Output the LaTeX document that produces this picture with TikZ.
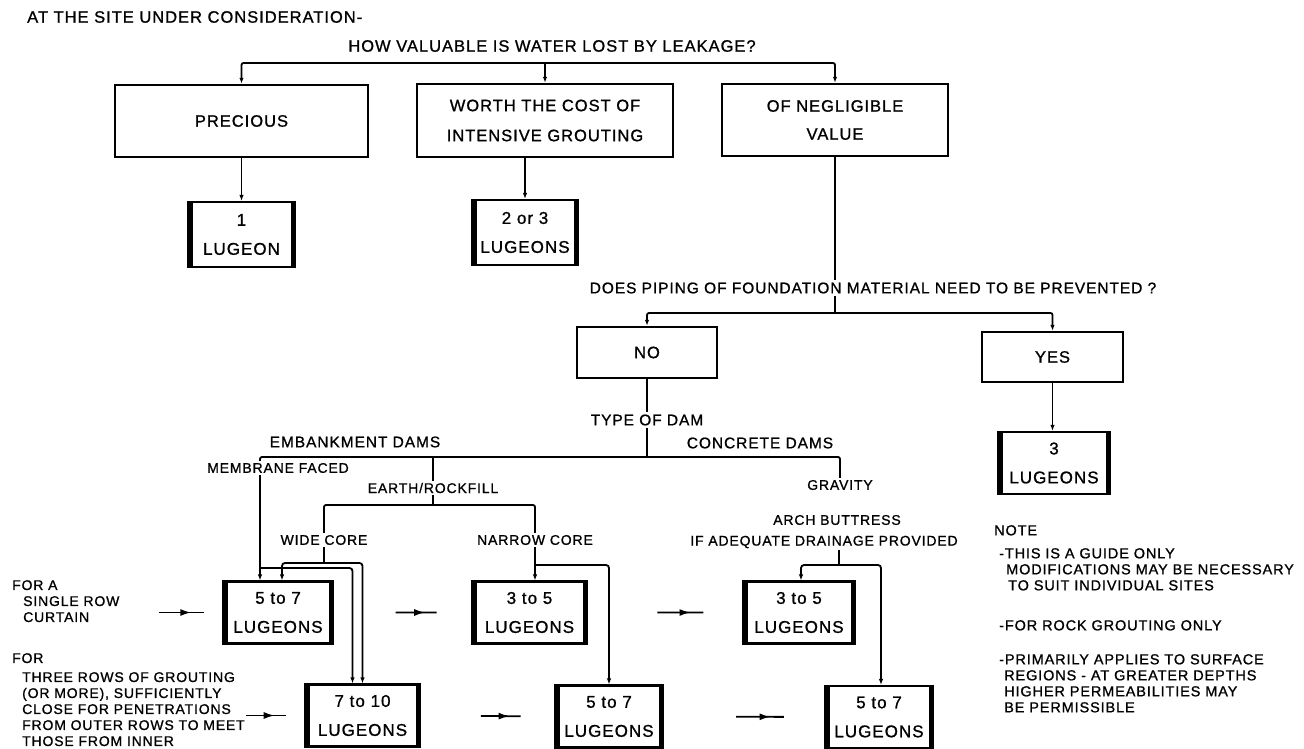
\documentclass[tikz,border=0pt]{standalone}
\usepackage{fontspec}
\setmainfont{Liberation Sans}[LetterSpace=6, FakeBold=1]
\usetikzlibrary{arrows.meta,calc,decorations.markings}

\newcommand\qfont{\fontsize{16.5}{30}\selectfont}
\newcommand\pfont{\fontsize{15.5}{18}\selectfont}
\newcommand\lfont{\fontsize{14}{16}\selectfont}
\newcommand\nfont{\fontsize{14.5}{16}\selectfont}
\newcommand\ugfont{\fontsize{17}{29}\selectfont}

\tikzset{
  link/.style={line width=1.8pt, rounded corners=2pt},
  arrow/.style={link, -{Latex[length=6pt,width=4.5pt]}},
  optbox/.style={draw, line width=2.4pt, align=center, font=\qfont, inner sep=0pt},
  lugbox/.style={draw, line width=2.2pt, align=center, font=\ugfont, inner sep=0pt,
    minimum width=110, minimum height=62,
    path picture={\draw[line width=9pt]
      (path picture bounding box.north west) -- (path picture bounding box.south west)
      (path picture bounding box.north east) -- (path picture bounding box.south east);}},
  lbl/.style={font=\lfont, inner sep=2pt},
  rowarrow/.style={line width=1.8pt, postaction={decorate},
    decoration={markings, mark=at position 0.72 with {\arrow{Latex[length=11pt,width=7pt]}}}}
}

\begin{document}
\begin{tikzpicture}[x=1pt, y=-1pt]
  \useasboundingbox (0,0) rectangle (1304,749);

  % first question: value of the lost water
  \node[anchor=west, font=\qfont, inner sep=0pt] (site) at (27,17) {AT THE SITE UNDER CONSIDERATION-};
  \node[font=\qfont, inner sep=0pt] (q1) at (552,46) {HOW VALUABLE IS WATER LOST BY LEAKAGE?};
  \node[optbox, minimum width=253, minimum height=72] (precious) at (241.5,121) {PRECIOUS};
  \node[optbox, minimum width=256, minimum height=73] (worth) at (545,120.5) {WORTH THE COST OF\\INTENSIVE GROUTING};
  \node[optbox, minimum width=226, minimum height=72, font=\fontsize{16.5}{28}\selectfont] (negl) at (835,120) {OF NEGLIGIBLE\\VALUE};
  \node[lugbox, minimum width=107, minimum height=65] (one) at (241.5,234.5) {1\\LUGEON};
  \node[lugbox, minimum width=106, minimum height=65] (twothree) at (525,232.5) {2 or 3\\LUGEONS};

  \coordinate (s1) at (545,63);
  \draw[arrow] (s1) -| (precious.north);
  \draw[arrow] (s1) -- (worth.north);
  \draw[arrow] (s1) -| (negl.north);
  \draw[arrow] (precious.south) -- (one.north);
  \draw[arrow] (worth.south -| twothree.north) -- (twothree.north);

  % second question: piping
  \node[font=\pfont, inner sep=2pt] (q2) at (873,288) {DOES PIPING OF FOUNDATION MATERIAL NEED TO BE PREVENTED ?};
  \node[optbox, minimum width=140, minimum height=51] (no) at (647,352.5) {NO};
  \node[optbox, minimum width=141, minimum height=50] (yes) at (1052.5,357) {YES};
  \node[lugbox, minimum width=112, minimum height=62] (three) at (1054,463) {3\\LUGEONS};

  \coordinate (s2) at (835,313);
  \draw[link] (negl.south) -- (negl.south |- q2.north);
  \draw[link] (negl.south |- q2.south) -- (s2);
  \draw[arrow] (s2) -| (no.north);
  \draw[arrow] (s2) -| (yes.north);
  \draw[arrow] (yes.south) -- (yes.south |- three.north);

  % type of dam
  \node[lbl, font=\pfont] (type) at (647,420) {TYPE OF DAM};
  \node[lbl, font=\pfont] (emb) at (355,442) {EMBANKMENT DAMS};
  \node[lbl, font=\pfont] (conc) at (760,443) {CONCRETE DAMS};
  \node[lbl] (memb) at (278,468) {MEMBRANE FACED};
  \node[lbl] (earth) at (433,488) {EARTH/ROCKFILL};
  \node[lbl] (wide) at (324,540) {WIDE CORE};
  \node[lbl] (narrow) at (535,540) {NARROW CORE};
  \node[lbl] (grav) at (840,485) {GRAVITY};
  \node[lbl] (arch) at (837,520) {ARCH BUTTRESS};
  \node[lbl] (drain) at (824,542) {IF ADEQUATE DRAINAGE PROVIDED};

  \coordinate (dl) at (260,457);
  \coordinate (dr) at (840,457);
  \draw[link] (no.south) -- (type.north);
  \draw[link] (type.south) -- (type.south |- dl);
  \draw[link] (memb.north -| dl) -- (dl) -- (dr) -- (grav.north);
  \draw[link] (earth.north |- dl) -- (earth.north);

  % lugeon values
  \node[lugbox] (A1) at (278,612.5) {5 to 7\\LUGEONS};
  \node[lugbox, minimum width=115] (A2) at (362.5,715.5) {7 to 10\\LUGEONS};
  \node[lugbox, minimum width=115] (B1) at (529.5,612.5) {3 to 5\\LUGEONS};
  \node[lugbox, minimum width=108] (B2) at (609,716.5) {5 to 7\\LUGEONS};
  \node[lugbox, minimum width=112] (C1) at (799,612.5) {3 to 5\\LUGEONS};
  \node[lugbox, minimum width=108] (C2) at (879,717) {5 to 7\\LUGEONS};

  % embankment branches
  \coordinate (ej) at (433,505);
  \coordinate (mj) at (260,568);
  \coordinate (wj) at (324,563);
  \coordinate (nj) at (535,565);
  \draw[link] (earth.south) -- (ej);
  \draw[link] (wide.north) |- (ej) -| (narrow.north);
  \draw[arrow] (memb.south -| dl) -- (dl |- A1.north);
  \draw[arrow, rounded corners=3pt] (mj) -| ($(A2.north)+(-10,0)$);
  \draw[link] (wide.south) -- (wj);
  \draw[arrow, rounded corners=3pt] (wj) -| ($(A1.north)+(4,0)$);
  \draw[arrow, rounded corners=3pt] (wj) -| (A2.north);
  \draw[link] (narrow.south) -- (nj);
  \draw[arrow] (nj) -- (nj |- B1.north);
  \draw[arrow, rounded corners=3pt] (nj) -| (B2.north);

  % concrete branch
  \coordinate (cj) at (839,565);
  \draw[link] (drain.south -| cj) -- (cj);
  \draw[arrow, rounded corners=3pt] (cj) -| ($(C1.north)+(2,0)$);
  \draw[arrow, rounded corners=3pt] (cj) -| ($(C2.north)+(2,0)$);

  % curtain type rows
  \node[anchor=north west, font=\lfont, align=left, inner sep=0pt] (single) at (12,580)
    {FOR A\\\hspace*{11pt}SINGLE ROW\\\hspace*{11pt}CURTAIN};
  \node[anchor=north west, font=\lfont, align=left, inner sep=0pt] (rows) at (12,653)
    {FOR\\[3pt]\hspace*{10pt}THREE ROWS OF GROUTING\\\hspace*{10pt}(OR MORE), SUFFICIENTLY\\
     \hspace*{10pt}CLOSE FOR PENETRATIONS\\\hspace*{10pt}FROM OUTER ROWS TO MEET\\
     \hspace*{10pt}THOSE FROM INNER};
  \draw[rowarrow] ($(A1.west)+(-63,0)$) -- ($(A1.west)+(-18,0)$);
  \draw[rowarrow] ($(A2.west)+(-58,0)$) -- ($(A2.west)+(-18,0)$);
  \foreach \a/\b in {A1/B1, B1/C1, A2/B2, B2/C2}
    \draw[rowarrow] ($(\a.east)!0.45!(\b.west)$) -- ($(\a.east)!0.75!(\b.west)$);

  % notes
  \node[anchor=north west, font=\nfont, align=left, inner sep=0pt] (notes) at (994,525)
    {NOTE\\[7pt]
     \hspace*{5pt}-THIS IS A GUIDE ONLY\\
     \hspace*{12pt}MODIFICATIONS MAY BE NECESSARY\\
     \hspace*{14pt}TO SUIT INDIVIDUAL SITES\\[24pt]
     \hspace*{5pt}-FOR ROCK GROUTING ONLY\\[18pt]
     \hspace*{5pt}-PRIMARILY APPLIES TO SURFACE\\
     \hspace*{10pt}REGIONS - AT GREATER DEPTHS\\
     \hspace*{10pt}HIGHER PERMEABILITIES MAY\\
     \hspace*{10pt}BE PERMISSIBLE};
\end{tikzpicture}
\end{document}
